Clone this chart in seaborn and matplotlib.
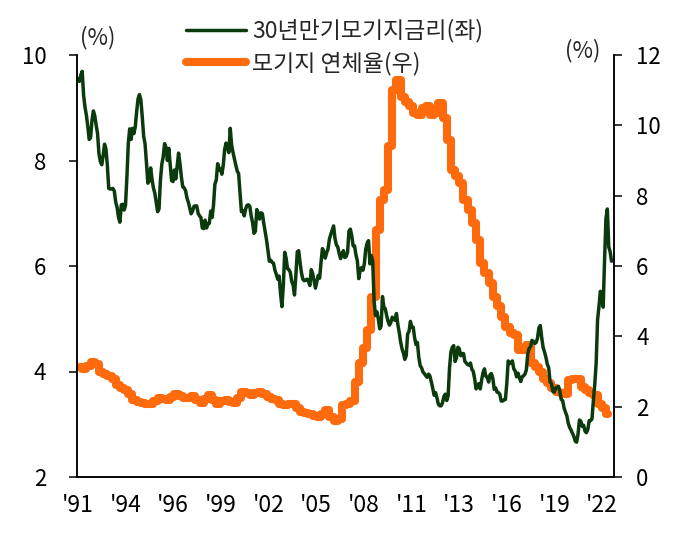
import matplotlib
matplotlib.use("Agg")
import matplotlib.pyplot as plt
import seaborn as sns
import numpy as np

sns.set_style("ticks")
plt.rcParams["font.family"] = ["Noto Sans CJK KR", "DejaVu Sans"]
plt.rcParams["font.weight"] = "light"

GREEN = "#0b3a0c"
ORANGE = "#ff6a0d"

# 30-year mortgage rate (%), monthly, Apr 1991 - Feb 2023
rate_30y = [
    9.55, 9.50, 9.62, 9.69, 9.24, 9.01, 8.86, 8.65, 8.40,                    # 1991
    8.43, 8.76, 8.94, 8.85, 8.67, 8.51, 8.13, 7.98, 7.92, 8.09, 8.31, 8.22,  # 1992
    7.91, 7.47, 7.46, 7.46, 7.47, 7.42, 7.21, 7.11, 6.92, 6.83, 7.16, 7.17,  # 1993
    7.06, 7.15, 7.68, 8.32, 8.60, 8.40, 8.61, 8.51, 8.64, 8.93, 9.17, 9.25,  # 1994
    9.15, 8.83, 8.46, 8.32, 7.96, 7.57, 7.61, 7.86, 7.64, 7.48, 7.38, 7.20,  # 1995
    7.03, 7.08, 7.62, 7.93, 8.07, 8.32, 8.25, 8.00, 8.23, 7.92, 7.62, 7.60,  # 1996
    7.82, 7.65, 7.90, 8.14, 7.94, 7.69, 7.50, 7.48, 7.43, 7.29, 7.21, 7.10,  # 1997
    6.99, 7.04, 7.13, 7.14, 7.14, 7.00, 6.95, 6.92, 6.72, 6.71, 6.87, 6.72,  # 1998
    6.79, 6.81, 7.04, 6.92, 7.15, 7.55, 7.63, 7.94, 7.82, 7.85, 7.74, 7.91,  # 1999
    8.21, 8.33, 8.24, 8.15, 8.61, 8.29, 8.15, 8.03, 7.91, 7.80, 7.75, 7.38,  # 2000
    7.03, 7.05, 6.95, 7.08, 7.15, 7.16, 7.13, 6.95, 6.82, 6.62, 6.66, 7.07,  # 2001
    7.00, 6.89, 7.01, 6.99, 6.81, 6.65, 6.49, 6.29, 6.09, 6.11, 6.07, 6.05,  # 2002
    5.92, 5.84, 5.75, 5.81, 5.48, 5.23, 5.63, 6.26, 6.15, 5.95, 5.93, 5.88,  # 2003
    5.71, 5.64, 5.45, 5.83, 6.27, 6.29, 6.06, 5.87, 5.75, 5.72, 5.73, 5.75,  # 2004
    5.71, 5.63, 5.93, 5.86, 5.72, 5.58, 5.70, 5.82, 5.77, 6.07, 6.33, 6.27,  # 2005
    6.15, 6.25, 6.32, 6.51, 6.60, 6.68, 6.76, 6.52, 6.40, 6.36, 6.24, 6.14,  # 2006
    6.22, 6.29, 6.16, 6.18, 6.26, 6.66, 6.70, 6.57, 6.38, 6.38, 6.21, 6.10,  # 2007
    5.76, 5.92, 5.97, 5.92, 6.04, 6.32, 6.43, 6.48, 6.04, 6.20, 6.09, 5.33,  # 2008
    5.06, 5.13, 5.00, 4.81, 4.86, 5.42, 5.22, 5.19, 5.06, 4.95, 4.88, 4.93,  # 2009
    5.03, 4.99, 4.97, 5.10, 4.89, 4.74, 4.56, 4.43, 4.35, 4.23, 4.30, 4.71,  # 2010
    4.76, 4.95, 4.84, 4.84, 4.64, 4.51, 4.55, 4.27, 4.11, 4.07, 3.99, 3.96,  # 2011
    3.92, 3.89, 3.95, 3.91, 3.80, 3.68, 3.55, 3.60, 3.50, 3.38, 3.35, 3.35,  # 2012
    3.41, 3.53, 3.57, 3.45, 3.54, 4.07, 4.37, 4.46, 4.49, 4.19, 4.26, 4.46,  # 2013
    4.43, 4.30, 4.34, 4.34, 4.19, 4.16, 4.13, 4.12, 4.16, 4.04, 4.00, 3.86,  # 2014
    3.67, 3.71, 3.77, 3.67, 3.84, 3.98, 4.05, 3.91, 3.89, 3.80, 3.94, 3.96,  # 2015
    3.87, 3.66, 3.69, 3.61, 3.60, 3.57, 3.44, 3.44, 3.46, 3.47, 3.77, 4.20,  # 2016
    4.15, 4.17, 4.20, 4.05, 4.01, 3.90, 3.97, 3.88, 3.81, 3.90, 3.92, 3.95,  # 2017
    4.03, 4.33, 4.44, 4.47, 4.59, 4.57, 4.53, 4.55, 4.63, 4.83, 4.87, 4.64,  # 2018
    4.46, 4.37, 4.27, 4.14, 4.07, 3.80, 3.77, 3.62, 3.61, 3.69, 3.70, 3.72,  # 2019
    3.62, 3.47, 3.45, 3.31, 3.23, 3.16, 3.02, 2.94, 2.89, 2.83, 2.77, 2.68,  # 2020
    2.66, 2.81, 3.08, 3.06, 2.96, 2.98, 2.87, 2.84, 2.90, 3.07, 3.07, 3.10,  # 2021
    3.45, 3.76, 4.17, 4.98, 5.23, 5.52, 5.41, 5.22, 6.11, 6.90, 7.08, 6.36,  # 2022
    6.27, 6.09,                                                              # 2023
]

# mortgage delinquency rate (%), quarterly, 1991Q2 - 2022Q4
delinq = [
    3.13, 3.08, 3.15, 3.28, 3.20, 3.00, 2.92, 2.86, 2.80, 2.62,
    2.52, 2.47, 2.35, 2.20, 2.13, 2.10, 2.08, 2.07, 2.15, 2.24,
    2.22, 2.18, 2.28, 2.37, 2.30, 2.24, 2.26, 2.29, 2.20, 2.10,
    2.22, 2.33, 2.20, 2.09, 2.15, 2.18, 2.14, 2.10, 2.25, 2.42,
    2.38, 2.33, 2.38, 2.42, 2.35, 2.28, 2.22, 2.18, 2.08, 2.04,
    2.07, 2.09, 1.95, 1.85, 1.82, 1.78, 1.73, 1.70, 1.78, 1.90,
    1.70, 1.60, 1.65, 2.04, 2.07, 2.15, 2.71, 3.23, 3.66, 4.18,
    5.13, 7.03, 7.88, 8.17, 9.40, 11.00, 11.30, 10.80, 10.65, 10.55,
    10.35, 10.30, 10.50, 10.55, 10.30, 10.35, 10.64, 10.21, 9.59, 8.74,
    8.55, 8.36, 7.88, 7.60, 7.22, 6.74, 6.08, 5.80, 5.51, 5.13,
    4.85, 4.56, 4.27, 4.09, 4.05, 3.61, 3.62, 3.75, 3.23, 3.12,
    2.99, 2.80, 2.66, 2.52, 2.42, 2.40, 2.37, 2.75, 2.80, 2.78,
    2.55, 2.47, 2.40, 2.33, 2.09, 1.95, 1.80,
]

x_labels = ["'91", "'94", "'96", "'99", "'02", "'05", "'08",
            "'11", "'13", "'16", "'19", "'22"]
label_rate = "30년만기모기지금리(좌)"
label_delinq = "모기지 연체율(우)"

t_rate = 1991.25 + np.arange(len(rate_30y)) / 12
t_delinq = 1991.25 + np.arange(len(delinq)) / 4 + 0.125

fig = plt.figure(figsize=(6.76, 5.37), dpi=100)
ax = fig.add_axes([77 / 676, 1 - 477 / 537, 537 / 676, 422 / 537])
ax2 = ax.twinx()

sns.lineplot(x=t_rate, y=rate_30y, ax=ax, color=GREEN, linewidth=2.5,
             label=label_rate)
sns.lineplot(x=t_delinq, y=delinq, ax=ax2, color=ORANGE, linewidth=5.8,
             drawstyle="steps-mid", solid_capstyle="round", label=label_delinq)

# green line on top of orange
ax.set_zorder(ax2.get_zorder() + 1)
ax.patch.set_visible(False)

h1, l1 = ax.get_legend_handles_labels()
h2, l2 = ax2.get_legend_handles_labels()
ax.get_legend().remove()
ax2.get_legend().remove()

ax.set_xlim(1991.19, 2023.23)
ax.set_ylim(2, 10)
ax2.set_ylim(0, 12)
ax.set_yticks([2, 4, 6, 8, 10])
ax2.set_yticks([0, 2, 4, 6, 8, 10, 12])
ax.set_xticks(np.linspace(1991.25, 2022.52, len(x_labels)))
ax.set_xticklabels(x_labels)

for a in (ax, ax2):
    a.spines["top"].set_visible(False)
    for s in a.spines.values():
        s.set_color("black")
        s.set_linewidth(1.1)
    a.grid(False)

ax.tick_params(axis="y", direction="out", length=6, width=1.1, pad=16,
               labelsize=16, colors="black")
ax.tick_params(axis="x", length=0, pad=12, labelsize=16.5, colors="black")
ax2.tick_params(axis="y", direction="out", length=6, width=1.1, pad=10,
                labelsize=16, colors="black")

fig.legend(h1 + h2, l1 + l2, loc="upper left",
           bbox_to_anchor=(186 / 676, 1 - 19 / 537), frameon=False,
           fontsize=16.5, handlelength=2.6, handletextpad=0.3,
           labelspacing=0.38, borderpad=0, borderaxespad=0)

fig.text(98 / 676, 1 - 38 / 537, "(%)", ha="center", va="center", fontsize=16)
fig.text(583 / 676, 1 - 51 / 537, "(%)", ha="center", va="center", fontsize=16)

fig.savefig("out.png", dpi=100)
